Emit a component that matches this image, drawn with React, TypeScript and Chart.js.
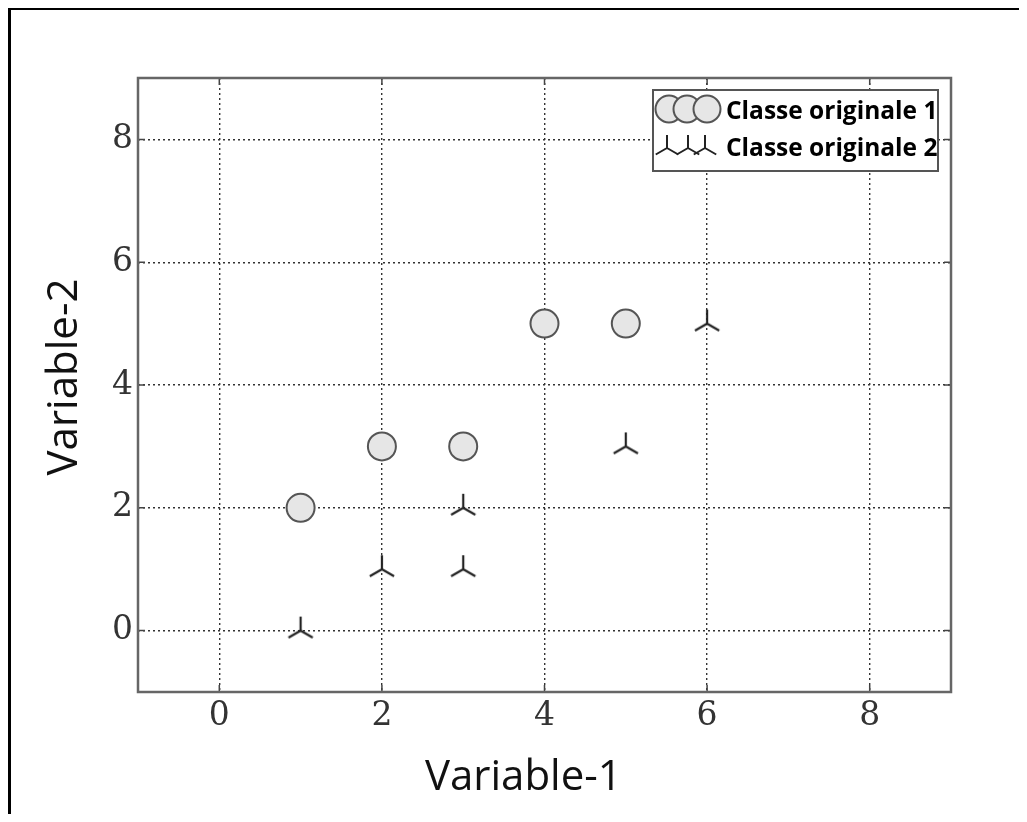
import React, { useEffect, useRef } from "react";
import { Chart, registerables } from "chart.js";
Chart.register(...registerables);

const class1X = [1, 2, 3, 4, 5];
const class1Y = [2, 3, 3, 5, 5];
const class2X = [1, 2, 3, 3, 5, 6];
const class2Y = [0, 1, 1, 2, 3, 5];
const xTicks = [0, 2, 4, 6, 8];
const yTicks = [0, 2, 4, 6, 8];
const xRange = [-1, 9];
const yRange = [-1, 9];
const seriesNames = ["Classe originale 1", "Classe originale 2"];
const axisTitles = ["Variable-1", "Variable-2"];

const COS30 = Math.cos(Math.PI / 6);

function drawTri(ctx: CanvasRenderingContext2D, x: number, y: number, len: number) {
  ctx.beginPath();
  ctx.moveTo(x, y);
  ctx.lineTo(x, y - len);
  ctx.moveTo(x, y);
  ctx.lineTo(x - len * COS30, y + len * 0.5);
  ctx.moveTo(x, y);
  ctx.lineTo(x + len * COS30, y + len * 0.5);
  ctx.stroke();
}

function drawCircle(ctx: CanvasRenderingContext2D, x: number, y: number, r: number) {
  ctx.beginPath();
  ctx.arc(x, y, r, 0, Math.PI * 2);
  ctx.fillStyle = "#e6e6e6";
  ctx.fill();
  ctx.lineWidth = 2;
  ctx.strokeStyle = "#555";
  ctx.stroke();
}

function makeTriCanvas() {
  const c = document.createElement("canvas");
  c.width = 34;
  c.height = 34;
  const ctx = c.getContext("2d")!;
  ctx.strokeStyle = "#222";
  ctx.lineWidth = 2.2;
  drawTri(ctx, 17, 17, 14);
  return c;
}

const framePlugin = {
  id: "framePlugin",
  afterDraw(chart: any) {
    const { ctx, chartArea: a, scales } = chart;
    ctx.save();
    ctx.strokeStyle = "#444";
    ctx.lineWidth = 1.5;
    ctx.setLineDash([]);
    for (const v of xTicks) {
      const px = scales.x.getPixelForValue(v);
      ctx.beginPath();
      ctx.moveTo(px, a.bottom);
      ctx.lineTo(px, a.bottom - 7);
      ctx.moveTo(px, a.top);
      ctx.lineTo(px, a.top + 7);
      ctx.stroke();
    }
    for (const v of yTicks) {
      const py = scales.y.getPixelForValue(v);
      ctx.beginPath();
      ctx.moveTo(a.left, py);
      ctx.lineTo(a.left + 7, py);
      ctx.moveTo(a.right, py);
      ctx.lineTo(a.right - 7, py);
      ctx.stroke();
    }
    ctx.strokeStyle = "#666";
    ctx.lineWidth = 2.5;
    ctx.strokeRect(a.left, a.top, a.right - a.left, a.bottom - a.top);

    ctx.fillStyle = "#111";
    ctx.font = '42px "Open Sans"';
    ctx.textAlign = "center";
    ctx.textBaseline = "alphabetic";
    ctx.fillText(axisTitles[0], a.left + (a.right - a.left) * 0.474, a.bottom + 98);
    ctx.save();
    ctx.translate(a.left - 61, a.top + (a.bottom - a.top) * 0.487);
    ctx.rotate(-Math.PI / 2);
    ctx.fillText(axisTitles[1], 0, 0);
    ctx.restore();

    const bx = a.right - 298;
    const by = a.top + 12;
    const bw = 285;
    const bh = 81;
    ctx.fillStyle = "#fff";
    ctx.fillRect(bx, by, bw, bh);
    ctx.strokeStyle = "#555";
    ctx.lineWidth = 2;
    ctx.strokeRect(bx, by, bw, bh);
    const cy = by + 19;
    drawCircle(ctx, bx + 16, cy, 13.5);
    drawCircle(ctx, bx + 34, cy, 13.5);
    drawCircle(ctx, bx + 54, cy, 13.5);
    ctx.strokeStyle = "#222";
    ctx.lineWidth = 2;
    const ty = by + 58;
    drawTri(ctx, bx + 14, ty, 13);
    drawTri(ctx, bx + 35, ty, 13);
    drawTri(ctx, bx + 52, ty, 13);
    ctx.fillStyle = "#000";
    ctx.font = 'bold 24.5px "Open Sans"';
    ctx.textAlign = "left";
    ctx.fillText(seriesNames[0], bx + 73, by + 29);
    ctx.fillText(seriesNames[1], bx + 73, by + 66);
    ctx.restore();
  },
};

export default function App() {
  const ref = useRef<HTMLCanvasElement | null>(null);
  useEffect(() => {
    if (!ref.current) return;
    const tri = makeTriCanvas();
    const chart = new Chart(ref.current, {
      type: "scatter",
      data: {
        datasets: [
          {
            label: seriesNames[0],
            data: class1X.map((x, i) => ({ x, y: class1Y[i] })),
            pointStyle: "circle",
            pointRadius: 14,
            pointHoverRadius: 14,
            backgroundColor: "#e6e6e6",
            borderColor: "#555",
            borderWidth: 2,
          },
          {
            label: seriesNames[1],
            data: class2X.map((x, i) => ({ x, y: class2Y[i] })),
            pointStyle: tri as any,
            pointRadius: 14,
            pointHoverRadius: 14,
          },
        ],
      },
      options: {
        animation: false,
        responsive: true,
        maintainAspectRatio: false,
        layout: { padding: { left: 0, right: 68, top: 70, bottom: 0 } },
        plugins: { legend: { display: false }, tooltip: { enabled: false } },
        events: [],
        scales: {
          x: {
            type: "linear",
            min: xRange[0],
            max: xRange[1],
            z: 1,
            afterBuildTicks: (s: any) => {
              s.ticks = xTicks.map((v) => ({ value: v }));
            },
            afterFit: (s: any) => {
              s.height = 122;
            },
            grid: { color: "#333", lineWidth: 1.4, drawTicks: false },
            border: { display: false, dash: [2, 3] },
            ticks: {
              color: "#333",
              padding: 5,
              font: { family: "DejaVu Serif", size: 33 },
              maxRotation: 0,
            },
          },
          y: {
            type: "linear",
            min: yRange[0],
            max: yRange[1],
            z: 1,
            afterBuildTicks: (s: any) => {
              s.ticks = yTicks.map((v) => ({ value: v }));
            },
            afterFit: (s: any) => {
              s.width = 130;
            },
            grid: { color: "#333", lineWidth: 1.4, drawTicks: false },
            border: { display: false, dash: [2, 3] },
            ticks: {
              color: "#333",
              padding: 5,
              font: { family: "DejaVu Serif", size: 33 },
            },
          },
        },
      },
      plugins: [framePlugin],
    } as any);
    return () => chart.destroy();
  }, []);
  return (
    <div style={{ position: "relative", width: 1011, height: 806 }}>
      <canvas ref={ref} />
      <div
        style={{
          position: "absolute",
          left: 0,
          top: -1,
          right: 0,
          bottom: 0,
          borderLeft: "3px solid #000",
          borderTop: "3px solid #000",
          pointerEvents: "none",
        }}
      />
    </div>
  );
}
